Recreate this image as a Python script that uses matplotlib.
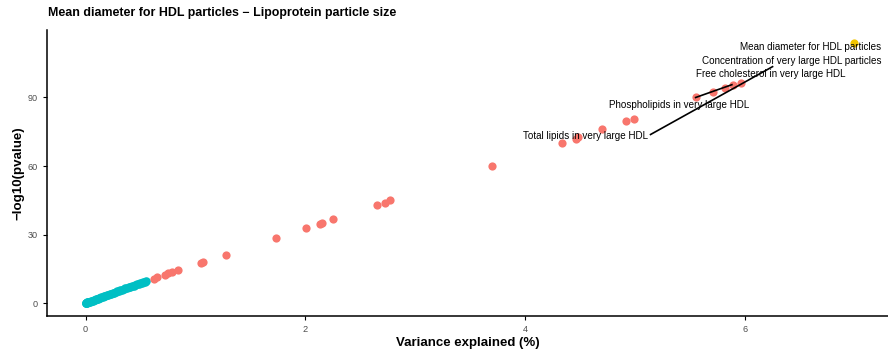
import numpy as np
import matplotlib.pyplot as plt

plt.rcParams['font.family'] = ['Liberation Sans', 'DejaVu Sans']

# highlighted trait (top hit)
top_x = [6.99]
top_y = [113.8]

# significant traits
sig_x = [5.96, 5.89, 5.82, 5.71, 5.55, 4.99, 4.92, 4.70, 4.48, 4.46, 4.33, 3.70,
         2.77, 2.72, 2.65, 2.25, 2.15, 2.13, 2.01, 1.73, 1.28, 1.07, 1.05,
         0.84, 0.79, 0.75, 0.72, 0.65, 0.62]
sig_y = [96.5, 95.6, 94.3, 92.6, 90.0, 80.8, 79.5, 76.0, 72.5, 72.0, 70.0, 60.0,
         45.0, 44.0, 43.0, 36.7, 35.0, 34.5, 32.8, 28.4, 21.0, 17.9, 17.5,
         14.4, 13.5, 13.0, 12.2, 11.4, 10.5]

# non-significant traits
ns_x = [0.000, 0.003, 0.006, 0.010, 0.015, 0.020, 0.026, 0.033, 0.040, 0.048,
        0.056, 0.064, 0.073, 0.082, 0.092, 0.102, 0.112, 0.123, 0.134, 0.145,
        0.157, 0.169, 0.181, 0.194, 0.207, 0.220, 0.233, 0.247, 0.261, 0.275,
        0.289, 0.303, 0.318, 0.333, 0.348, 0.363, 0.378, 0.393, 0.408, 0.423,
        0.438, 0.453, 0.468, 0.483, 0.498, 0.512, 0.526, 0.540, 0.552]
ns_y = [0.0, 0.1, 0.1, 0.2, 0.3, 0.4, 0.5, 0.6, 0.7, 0.8,
        1.0, 1.1, 1.3, 1.4, 1.6, 1.8, 2.0, 2.2, 2.3, 2.5,
        2.7, 3.0, 3.2, 3.4, 3.6, 3.8, 4.1, 4.3, 4.6, 4.8,
        5.1, 5.3, 5.6, 5.8, 6.1, 6.4, 6.6, 6.9, 7.1, 7.4,
        7.7, 7.9, 8.2, 8.5, 8.7, 9.0, 9.2, 9.4, 9.6]

# labels: text, x position (right edge), y position
lab_text = ["Mean diameter for HDL particles",
            "Concentration of very large HDL particles",
            "Free cholesterol in very large HDL",
            "Phospholipids in very large HDL",
            "Total lipids in very large HDL"]
lab_x = [7.24, 7.24, 6.915, 6.035, 5.12]
lab_y = [112.3, 106.0, 100.3, 86.8, 73.3]

# repel segments
seg_x = [[5.14, 6.25], [5.55, 5.88]]
seg_y = [[73.8, 103.5], [90.0, 95.6]]

fig = plt.figure(figsize=(8.88, 3.54), dpi=100)
ax = fig.add_axes([0.053, 0.107, 0.947, 0.808])

ax.scatter(ns_x, ns_y, s=38, color='#00BFC4', linewidths=0, zorder=2)
ax.scatter(sig_x, sig_y, s=35, color='#F8766D', linewidths=0, zorder=2)
ax.scatter(top_x, top_y, s=35, color='#F2C500', linewidths=0, zorder=2)

for sx, sy in zip(seg_x, seg_y):
    ax.plot(sx, sy, color='black', lw=1.2, zorder=3)
for t, x, y in zip(lab_text, lab_x, lab_y):
    ax.text(x, y, t, ha='right', va='center', fontsize=7.1, color='black', zorder=4)

ax.set_xlim(-0.35, 7.3)
ax.set_ylim(-5.7, 119.5)
ax.set_xticks([0, 2, 4, 6])
ax.set_yticks([0, 30, 60, 90])
ax.tick_params(labelsize=6.6, colors='#4D4D4D', length=3, width=0.8)
ax.tick_params(axis='both', color='black')
for sp in ['top', 'right']:
    ax.spines[sp].set_visible(False)
for sp in ['left', 'bottom']:
    ax.spines[sp].set_linewidth(1.1)

ax.set_xlabel('Variance explained (%)', fontsize=9.5, fontweight='bold', labelpad=2)
ax.set_ylabel('\u2212log10(pvalue)', fontsize=9.6, fontweight='bold', labelpad=2.5)
fig.text(0.054, 0.963, 'Mean diameter for HDL particles \u2212 Lipoprotein particle size',
         fontsize=8.9, fontweight='bold', va='center', ha='left')

fig.savefig('out.png', dpi=100)
